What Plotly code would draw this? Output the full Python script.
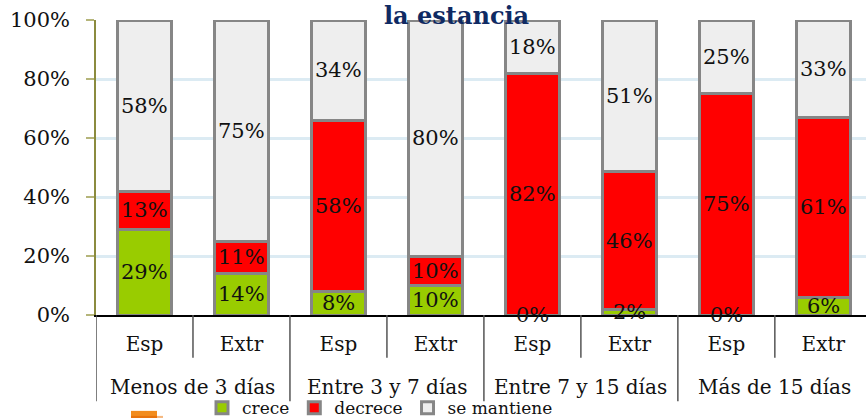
import plotly.graph_objects as go

group_names = ["Menos de 3 días", "Entre 3 y 7 días", "Entre 7 y 15 días", "Más de 15 días"]
subs = ["Esp", "Extr"] * 4
crece = [29, 14, 8, 10, 0, 2, 0, 6]
decrece = [13, 11, 58, 10, 82, 46, 75, 61]
mantiene = [58, 75, 34, 80, 18, 51, 25, 33]
y_ticks = [0, 20, 40, 60, 80, 100]
series = [("crece", crece, "#99CC00"), ("decrece", decrece, "#FF0000"), ("se mantiene", mantiene, "#EEEEEE")]
FONT = "DejaVu Serif"
EDGE = "#868686"
INK = "#111111"

fig = go.Figure()
x = list(range(len(subs)))
for name, vals, col in series:
    fig.add_bar(x=x, y=vals, name=name, marker=dict(color=col, line=dict(color=EDGE, width=3)), width=0.56)

annotations = []
totals = [a + b + c for a, b, c in zip(crece, decrece, mantiene)]
base = [0] * len(x)
for name, vals, col in series:
    for i, (b, v, t) in enumerate(zip(base, vals, totals)):
        annotations.append(dict(text=f"{v}%", x=x[i], y=(b + v / 2) * 100 / t, xref="x", yref="y",
                                showarrow=False, font=dict(family=FONT, size=21, color=INK)))
    base = [b + v for b, v in zip(base, vals)]

shapes = []
for i in range(len(x)):
    b = i - 0.5
    y1 = -0.292 if i % 2 == 0 else -0.145
    shapes.append(dict(type="line", xref="x", yref="paper", x0=b, x1=b, y0=0, y1=y1,
                       line=dict(color="#555555", width=1.5)))
shapes += [
    dict(type="rect", xref="paper", yref="paper", x0=35 / 770, x1=67 / 770, y0=-0.349, y1=-0.342,
         fillcolor="#F5B880", line_width=0),
    dict(type="rect", xref="paper", yref="paper", x0=35 / 770, x1=61 / 770, y0=-0.349, y1=-0.325,
         fillcolor="#F28C1E", line_width=0),
    dict(type="rect", xref="paper", yref="paper", x0=35 / 770, x1=61 / 770, y0=-0.349, y1=-0.342,
         fillcolor="#E8730C", line_width=0),
]
annotations += [
    dict(text=g, x=2 * i + 0.5, xref="x", y=-0.245, yref="paper", xanchor="center", yanchor="middle",
         showarrow=False, font=dict(family=FONT, size=20, color=INK))
    for i, g in enumerate(group_names)
]
annotations.append(dict(text="<b>la estancia</b>", x=(456 - 96) / 770, xref="paper", y=1.071, yref="paper",
                        xanchor="center", yanchor="top", showarrow=False,
                        font=dict(family=FONT, size=24, color="#0F2A63")))

fig.update_layout(
    width=866, height=418, barmode="stack", barnorm="percent", showlegend=True,
    margin=dict(l=96, r=0, t=20, b=103, autoexpand=False), plot_bgcolor="white", paper_bgcolor="white",
    font=dict(family=FONT, size=20, color=INK),
    legend=dict(orientation="h", x=106 / 770, xanchor="left", y=-0.316, yanchor="middle",
                font=dict(size=17), bgcolor="rgba(0,0,0,0)", itemwidth=30, traceorder="normal"),
    xaxis=dict(range=[-0.5, 7.44], showline=True, linecolor="black", linewidth=1.5, showgrid=False, zeroline=False,
               tickvals=x, ticktext=subs, ticks="", ticklabelstandoff=10, tickfont=dict(size=20)),
    yaxis=dict(range=[0, 100], tickvals=y_ticks, ticktext=[f"{v}%" for v in y_ticks], showgrid=True,
               gridcolor="#DCEBF3", gridwidth=2.5, zeroline=False, showline=True, linecolor="#8B8B3F", linewidth=1.5,
               ticks="outside", ticklen=8, tickcolor="#B5B57A", tickwidth=1.5, ticklabelstandoff=12, tickfont=dict(size=21)),
    shapes=shapes, annotations=annotations,
)
fig.write_html("out.html", config=dict(displayModeBar=False), post_script="document.body.style.margin='0';")
